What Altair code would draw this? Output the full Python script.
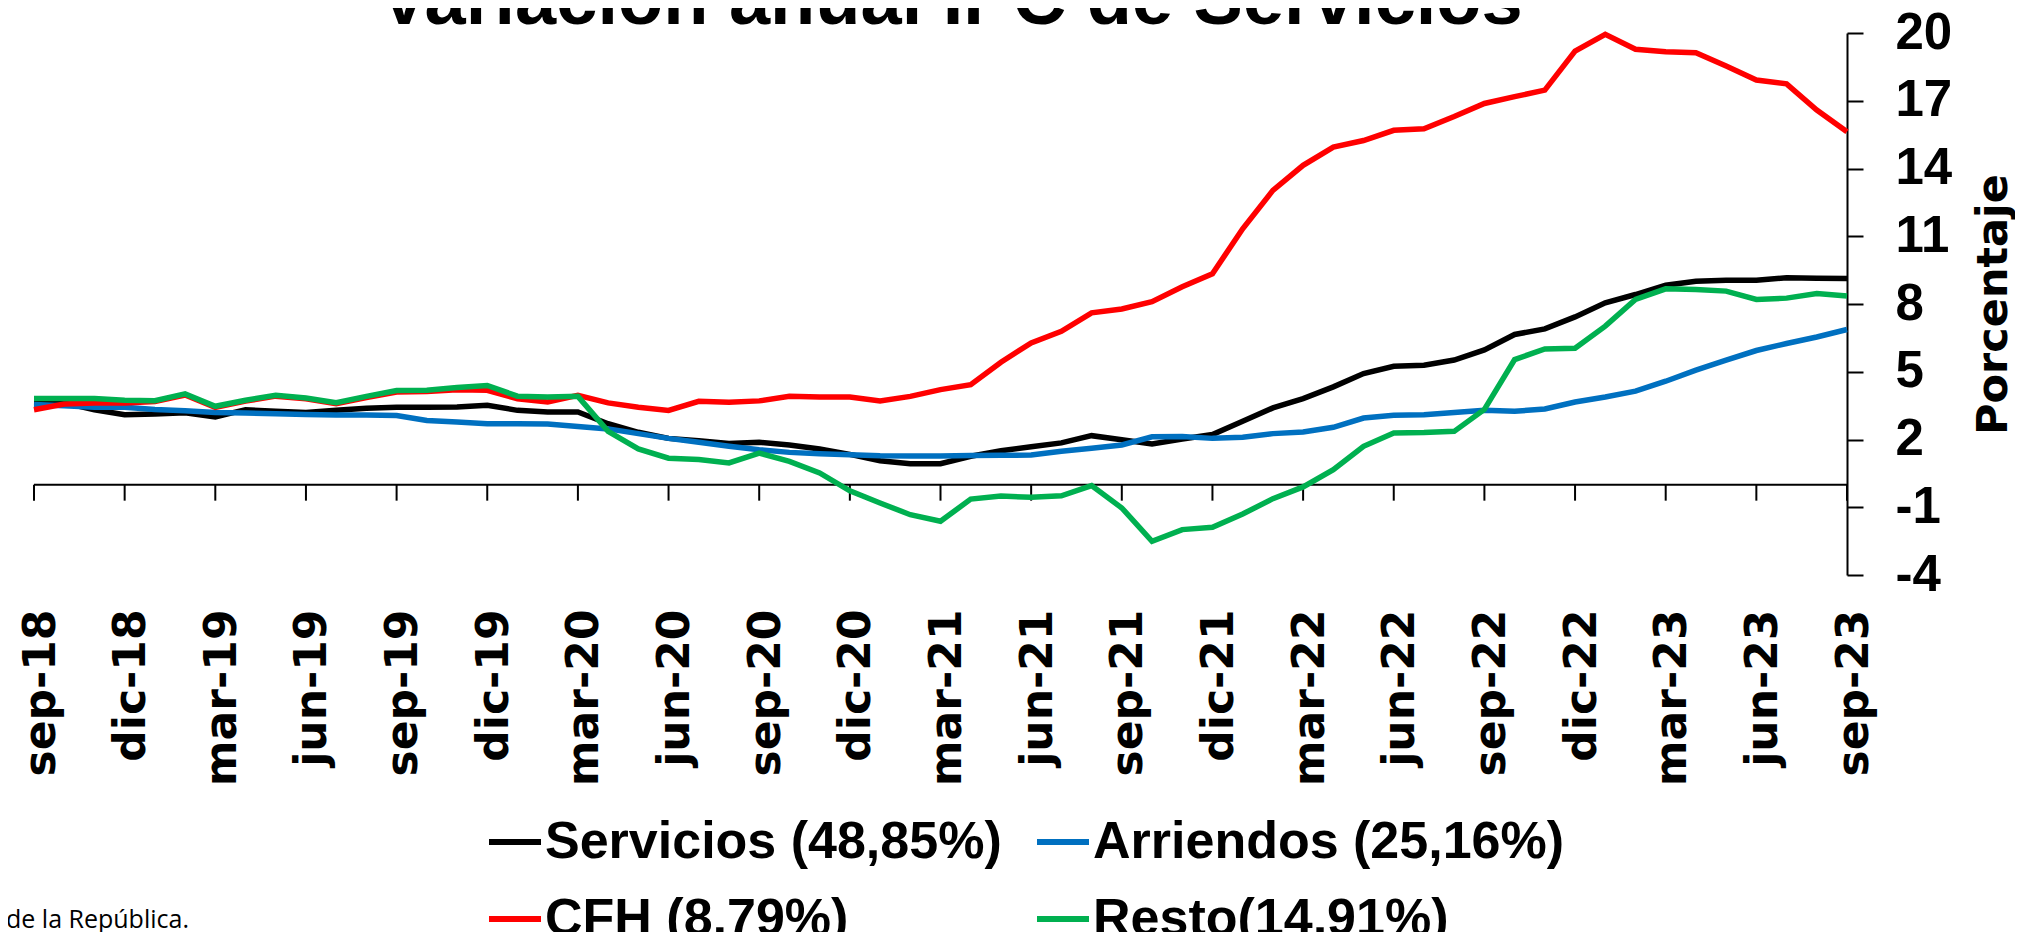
import altair as alt
import pandas as pd

meses = ["sep-18","oct-18","nov-18","dic-18","ene-19","feb-19","mar-19","abr-19","may-19","jun-19","jul-19","ago-19",
         "sep-19","oct-19","nov-19","dic-19","ene-20","feb-20","mar-20","abr-20","may-20","jun-20","jul-20","ago-20",
         "sep-20","oct-20","nov-20","dic-20","ene-21","feb-21","mar-21","abr-21","may-21","jun-21","jul-21","ago-21",
         "sep-21","oct-21","nov-21","dic-21","ene-22","feb-22","mar-22","abr-22","may-22","jun-22","jul-22","ago-22",
         "sep-22","oct-22","nov-22","dic-22","ene-23","feb-23","mar-23","abr-23","may-23","jun-23","jul-23","ago-23",
         "sep-23"]
etiquetas_x = ["sep-18","dic-18","mar-19","jun-19","sep-19","dic-19","mar-20","jun-20","sep-20","dic-20","mar-21",
               "jun-21","sep-21","dic-21","mar-22","jun-22","sep-22","dic-22","mar-23","jun-23","sep-23"]
ticks_y = [-4, -1, 2, 5, 8, 11, 14, 17, 20]

servicios = [3.65,3.62,3.32,3.10,3.13,3.18,3.00,3.32,3.25,3.20,
             3.29,3.38,3.43,3.43,3.44,3.52,3.29,3.22,3.22,2.70,
             2.32,2.05,1.94,1.82,1.88,1.76,1.58,1.34,1.06,0.93,
             0.93,1.26,1.50,1.68,1.85,2.17,1.99,1.80,2.02,2.22,
             2.81,3.40,3.81,4.33,4.92,5.24,5.29,5.52,5.97,6.65,
             6.90,7.43,8.05,8.42,8.83,9.01,9.05,9.05,9.16,9.14,
             9.13]
arriendos = [3.55,3.49,3.43,3.43,3.33,3.27,3.20,3.17,3.14,3.11,
             3.09,3.09,3.06,2.84,2.78,2.70,2.70,2.69,2.58,2.47,
             2.26,2.05,1.88,1.70,1.55,1.43,1.37,1.33,1.28,1.27,
             1.27,1.29,1.30,1.31,1.48,1.61,1.76,2.12,2.13,2.05,
             2.10,2.26,2.33,2.54,2.95,3.07,3.10,3.20,3.30,3.25,
             3.35,3.66,3.88,4.14,4.58,5.07,5.51,5.94,6.25,6.54,
             6.87]
cfh = [3.32,3.57,3.62,3.62,3.68,3.97,3.42,3.70,3.92,3.80,
       3.58,3.86,4.10,4.12,4.20,4.18,3.80,3.66,3.96,3.62,
       3.43,3.29,3.69,3.65,3.71,3.91,3.88,3.88,3.71,3.91,
       4.21,4.43,5.42,6.28,6.79,7.61,7.78,8.10,8.76,9.34,
       11.33,13.03,14.14,14.95,15.24,15.69,15.76,16.30,16.88,17.18,
       17.47,19.20,19.94,19.28,19.17,19.13,18.54,17.92,17.75,16.59,
       15.63]
resto = [3.81,3.81,3.81,3.74,3.72,4.02,3.47,3.74,3.96,3.84,
         3.63,3.91,4.17,4.18,4.30,4.39,3.92,3.88,3.91,2.36,
         1.58,1.17,1.11,0.96,1.40,1.03,0.52,-0.27,-0.81,-1.33,
         -1.62,-0.64,-0.50,-0.56,-0.49,-0.04,-1.03,-2.51,-1.99,-1.89,
         -1.30,-0.62,-0.10,0.66,1.70,2.29,2.31,2.36,3.33,5.54,
         6.01,6.04,7.02,8.20,8.67,8.64,8.57,8.20,8.26,8.46,
         8.35]

nombres = ["Servicios (48,85%)", "Arriendos (25,16%)", "CFH (8,79%)", "Resto(14,91%)"]
colores = ["#000000", "#0070C0", "#FF0000", "#00B050"]
titulo = "Variación anual IPC de Servicios"
titulo_y = "Porcentaje"
fuente = "de la República."

filas = []
for nombre, serie in zip(nombres, [servicios, arriendos, cfh, resto]):
    for mes, v in zip(meses, serie):
        filas.append({"mes": mes, "serie": nombre, "valor": v})
df = pd.DataFrame(filas)

W, H = 1813, 542

x_enc = alt.X("mes:O", sort=meses,
              scale=alt.Scale(type="point", padding=0, domain=meses),
              axis=alt.Axis(values=etiquetas_x, title=None, domain=False, ticks=False,
                            labelAngle=270, labelAlign="right", labelBaseline="middle",
                            labelFont="DejaVu Sans", labelFontSize=44, labelFontWeight="bold",
                            labelColor="black", labelPadding=34, position=7))
y_enc = alt.Y("valor:Q",
              scale=alt.Scale(domain=[-4, 20], nice=False, zero=False),
              axis=alt.Axis(orient="right", values=ticks_y, grid=False, title=titulo_y,
                            labelExpr="'' + datum.value",
                            domainColor="black", domainWidth=2, tickColor="black", tickWidth=2,
                            tickSize=16, labelPadding=32, labelFont="Liberation Sans",
                            labelFontSize=51, labelFontWeight="bold", labelColor="black",
                            titleFont="DejaVu Sans", titleFontSize=43, titleFontWeight="bold",
                            titleColor="black", titleAngle=270, titleBaseline="middle",
                            titleAlign="center", titleX=146, titleY=271))
color_enc = alt.Color("serie:N",
                      scale=alt.Scale(domain=nombres, range=colores),
                      legend=alt.Legend(orient="none", legendX=452, legendY=780, columns=2,
                                        direction="horizontal",
                                        title=None, symbolType="stroke", symbolStrokeWidth=6,
                                        symbolSize=2704, labelFont="Liberation Sans",
                                        labelFontSize=52, labelFontWeight="bold",
                                        labelColor="black", labelLimit=0, labelOffset=1,
                                        columnPadding=23, rowPadding=22))

capas = []
for nombre in nombres:
    capas.append(
        alt.Chart(df).transform_filter(alt.datum.serie == nombre)
        .mark_line(strokeWidth=5.5)
        .encode(x=x_enc, y=y_enc, color=color_enc)
    )

eje_cero = alt.Chart(pd.DataFrame({"v": [0]})).mark_rule(color="black", strokeWidth=2).encode(
    y=alt.Y("v:Q", scale=alt.Scale(domain=[-4, 20], nice=False, zero=False)))

marcas = alt.Chart(pd.DataFrame({"mes": etiquetas_x})).mark_rule(
    color="black", strokeWidth=2, y2Offset=16).encode(
    x=alt.X("mes:O", sort=meses, scale=alt.Scale(type="point", padding=0, domain=meses)),
    y=alt.datum(0), y2=alt.datum(0))

texto_titulo = alt.Chart(pd.DataFrame({"t": [titulo]})).mark_text(
    font="Liberation Sans", fontSize=74, fontWeight="bold", color="black",
    align="center", baseline="alphabetic").encode(
    x=alt.value(917), y=alt.value(-9), text="t:N")

texto_fuente = alt.Chart(pd.DataFrame({"t": [fuente]})).mark_text(
    font="Open Sans", fontSize=25, color="black", align="left",
    baseline="alphabetic").encode(
    x=alt.value(-28), y=alt.value(895), text="t:N")

chart = alt.layer(eje_cero, marcas, *capas, texto_titulo, texto_fuente).properties(
    width=W, height=H,
    background="white",
    autosize=alt.AutoSizeParams(type="none"),
    padding={"left": 26, "top": 25, "right": 168, "bottom": 357},
).configure_view(stroke=None)

chart.save("out.html", embed_options={"renderer": "svg", "actions": False})
